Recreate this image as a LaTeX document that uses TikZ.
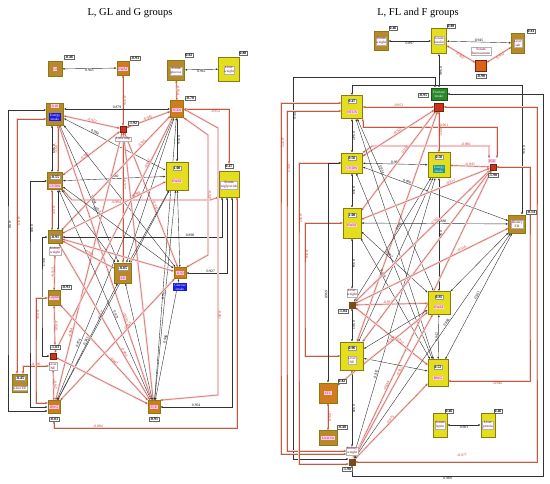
\documentclass[tikz,border=0pt]{standalone}
\usepackage{fontspec}
\setmainfont{Liberation Serif}
\usetikzlibrary{arrows.meta,backgrounds,calc}
\definecolor{goldc}{HTML}{B8892A}
\definecolor{orc}{HTML}{D27A1E}
\definecolor{yelc}{HTML}{E4DE1C}
\definecolor{redsq}{HTML}{C8341C}
\definecolor{brownsq}{HTML}{7A4A1A}
\definecolor{bluec}{HTML}{1A1AE6}
\definecolor{tealc}{HTML}{1A9A9A}
\definecolor{greenc}{HTML}{2A8A2A}
\definecolor{negc}{HTML}{B8603A}
\definecolor{negt}{HTML}{D03020}
\definecolor{haloc}{HTML}{F9D2DC}
\definecolor{bordc}{HTML}{8A7A10}
\definecolor{pinkb}{HTML}{FFD0E8}
\definecolor{magt}{HTML}{C0107A}
\tikzset{
 >={Latex[length=2.3pt,width=1.9pt]},
 posE/.style={<->, draw=black!80, line width=0.4pt},
 negE/.style={<->, draw=negc, line width=0.4pt, preaction={draw=haloc, line width=2pt, -}},
 plab/.style={font=\fontsize{3.7}{4.2}\selectfont, inner sep=0.4pt, text=black},
 nlab/.style={plab, text=negt},
 gbox/.style={draw=bordc, line width=0.6pt, inner sep=0pt, rectangle},
 vout/.style={draw=black!60, fill=white, font=\fontsize{3.9}{4.4}\selectfont\bfseries, inner sep=0.7pt, line width=0.3pt},
 vinb/.style={fill=white, draw=black!40, font=\fontsize{3.9}{4.4}\selectfont\bfseries, inner sep=0.6pt, line width=0.2pt},
 lpink/.style={fill=pinkb, font=\fontsize{3.6}{4.1}\selectfont, text=magt, inner sep=0.6pt, align=center},
 lwhite/.style={fill=white, draw=black!30, line width=0.2pt, font=\fontsize{3.5}{4}\selectfont, text=purple!60!black, inner sep=0.5pt, align=center},
 collab/.style={font=\fontsize{3.5}{4}\selectfont, text=white, inner sep=0.8pt, align=center},
 titlest/.style={font=\fontsize{10.5}{12}\selectfont}
}
\newcommand{\GNode}[7][]{\node[gbox,fill=#7,minimum width=#5pt,minimum height=#6pt,#1] (#2) at (#3,#4) {};}
\newcommand{\VOut}[4]{\node[vout] (#1) at (#2,#3) {#4};}
\newcommand{\VIn}[4]{\node[vinb] (#1) at (#2,#3) {#4};}
\newcommand{\LPink}[4]{\node[lpink] (#1) at (#2,#3) {#4};}
\newcommand{\LWhite}[4]{\node[lwhite] (#1) at (#2,#3) {#4};}
\begin{document}
\begin{tikzpicture}[x=1pt,y=-1pt]
\useasboundingbox (0,0) rectangle (550,484);
\node[titlest] (t1) at (130,13) {L, GL and G groups};
\node[titlest] (t2) at (418,13) {L, FL and F groups};

% ---------------- left panel nodes
\GNode{gi}{55}{69}{14}{15}{goldc} \LPink{gi-l}{55}{69}{GI} \VOut{gi-v}{69}{57}{-0.46}
\GNode{ewa}{123}{68}{12}{14}{orc} \LPink{ewa-l}{123}{69}{EWAT} \VOut{ewa-v}{135}{58}{-0.93}
\GNode{sgl}{176}{70}{17}{20}{goldc} \LWhite{sgl-l}{176}{71}{Serum\\glucose} \VOut{sgl-v}{189}{55}{0.82}
\GNode{lwa}{229}{69}{21}{24}{yelc} \LWhite{lwa-l}{229}{70}{Liver\\weight} \VOut{lwa-v}{243}{53}{0.88}
\GNode{eia}{55}{114}{17}{22}{goldc} \LPink{eia-v}{55}{106}{0.18}
\node[collab,fill=bluec] (eia-l) at (55,117) {Energy\\intake};
\GNode{scd}{177}{109}{13}{17}{orc} \LPink{scd-l}{177}{110}{SCD1} \VOut{scd-v}{190}{98}{-0.70}
\GNode[draw=redsq!60!black]{lad}{123}{129}{6}{6}{redsq} \VOut{lad-v}{133}{123}{-1.92} \LWhite{lad-l}{123}{139}{Liver adip}
\GNode{cva}{55}{181}{15}{17}{goldc} \VIn{cva-v}{55}{177}{-0.55} \LPink{cva-l}{55}{186}{CVDW}
\GNode{ewb}{177}{176}{22}{28}{yelc} \VIn{ewb-v}{177}{168}{1.00} \LPink{ewb-l}{177}{181}{EWAT}
\GNode{stg}{229}{184}{20}{26}{yelc} \LWhite{stg-l}{229}{185}{Serum\\triglyceride} \VOut{stg-v}{229}{166}{0.47}
\GNode{kwa}{55}{237}{14}{13}{goldc} \VIn{kwa-v}{55}{237}{-0.91} \LWhite{kwa-l}{55}{251}{Kidney\\weight}
\GNode{eda}{123}{273}{17}{20}{goldc} \VIn{eda-v}{123}{268}{-0.85} \LPink{eda-l}{123}{278}{ED}
\GNode{gib}{180}{273}{12}{11}{orc} \LPink{gib-v}{180}{273}{-0.92}
\node[collab,fill=bluec] (gib-l) at (180,287) {Glucose\\intake};
\GNode{lep}{54}{298}{12}{15}{goldc} \LPink{lep-l}{54}{298}{Leptin} \VOut{lep-v}{66}{287}{-0.93}
\GNode[draw=redsq!60!black]{lne}{53}{356}{6}{6}{redsq} \VOut{lne-v}{55}{347}{-1.83} \LWhite{lne-l}{53}{366}{Liver\\NE}
\GNode{lee}{20}{383}{15}{18}{goldc} \VIn{lee-v}{20}{378}{-0.45} \LWhite{lee-l}{20}{388}{Liver EE}
\GNode{bwa}{54}{407}{12}{13}{orc} \LPink{bwa-l}{54}{407}{BWG} \VOut{bwa-v}{54}{419}{-0.83}
\GNode{fca}{154}{407}{12}{13}{orc} \LPink{fca-l}{154}{407}{FCE} \VOut{fca-v}{154}{419}{-0.91}

% ---------------- right panel nodes
\GNode{swr}{381}{41}{14}{19}{goldc} \LWhite{swr-l}{381}{41}{Serum\\weight} \VOut{swr-v}{393}{28}{0.46}
\GNode{sir}{439}{41}{15}{25}{yelc} \LWhite{sir-l}{439}{40}{Serum\\insulin} \VOut{sir-v}{451}{26}{0.89}
\GNode{lsr}{518}{43}{13}{20}{goldc} \LWhite{lsr-l}{518}{43}{Liver\\salt} \VOut{lsr-v}{531}{31}{0.81}
\LWhite{sfr-l}{481}{51}{Serum\\fructosamine}
\GNode[draw=redsq!60!black]{sfr}{481}{66}{11}{11}{orc!80!red} \VOut{sfr-v}{481}{76}{-0.90}
\GNode[draw=greenc!60!black]{fir}{439}{94}{16}{12}{greenc}
\node[collab] (fir-l) at (439,94) {Fructose\\intake};
\GNode[draw=redsq!60!black]{firs}{439}{107}{9}{8}{redsq} \VOut{fir-v}{423}{95}{-0.95}
\GNode{ntr}{352}{107}{21}{23}{yelc} \VIn{ntr-v}{352}{101}{0.47} \LPink{ntr-l}{352}{112}{NTCN}
\GNode{cvr}{352}{163}{21}{20}{yelc} \VIn{cvr-v}{352}{158}{0.56} \LPink{cvr-l}{352}{168}{CVDW}
\GNode{eir}{439}{165}{22}{25}{yelc} \VIn{eir-v}{439}{157}{0.50}
\node[collab,fill=tealc] (eir-l) at (439,169) {Energy\\intake};
\LPink{fcr-l}{492}{161}{FCE}
\GNode[draw=redsq!60!black]{fcr}{493}{167}{6}{6}{redsq} \VOut{fcr-v}{493}{175}{-1.90}
\GNode{ewr}{352}{223}{18}{30}{yelc} \VIn{ewr-v}{352}{215}{1.00} \LPink{ewr-l}{352}{225}{EWAT}
\GNode{edr}{517}{224}{17}{18}{goldc} \LWhite{edr-l}{517}{224}{Dietary\\ED} \VOut{edr-v}{531}{212}{-0.14}
\LWhite{lwr-l}{352}{293}{Liver\\weight}
\GNode[draw=brownsq]{lwr}{352}{305}{6}{6}{brownsq} \VOut{lwr-v}{343}{311}{-1.04}
\GNode{ewr2}{439}{303}{22}{23}{yelc} \VIn{ewr2-v}{439}{297}{0.95} \LPink{ewr2-l}{439}{307}{EWAT}
\GNode{lner}{352}{356}{23}{28}{yelc} \VIn{lner-v}{352}{348}{0.96} \LWhite{lner-l}{352}{360}{Liver\\NE}
\GNode{bwr}{438}{373}{20}{27}{yelc} \VIn{bwr-v}{438}{367}{0.52} \LPink{bwr-l}{438}{378}{BWG}
\GNode{stc}{328}{393}{18}{20}{orc} \LPink{stc-l}{328}{393}{STC} \VOut{stc-v}{342}{381}{0.82}
\GNode{lfr}{328}{438}{18}{15}{goldc} \LPink{lfr-l}{328}{438}{Liver fat} \VOut{lfr-v}{342}{427}{-0.48}
\LWhite{kwr-l}{352}{451}{Kidney\\weight}
\GNode[draw=brownsq]{kwr}{352}{462}{6}{6}{brownsq} \VOut{kwr-v}{347}{469}{-1.98}
\GNode{slr}{440}{425}{14}{24}{yelc} \LWhite{slr-l}{440}{425}{Serum\\leptin} \VOut{slr-v}{449}{411}{0.46}
\GNode{lpr}{488}{425}{14}{24}{yelc} \LWhite{lpr-l}{488}{425}{Liver\\protein} \VOut{lpr-v}{498}{411}{0.46}

\begin{scope}[on background layer]
% ======== left panel edges
\draw[posE] (gi) -- node[plab,below]{0.945} (ewa);
\draw[posE] (sgl) -- node[plab,below]{0.961} (lwa);
\draw[negE] (ewa) -- node[nlab,sloped,above]{-0.976} (lad);
\draw[negE] (sgl) -- node[nlab,sloped,above]{-0.914} (scd);
\draw[posE] (eia.east |- scd) -- node[plab,above]{0.879} (scd);
\draw[negE] (lad) -- node[nlab,sloped,above]{-0.922} (eia);
\draw[negE] (lad) -- node[nlab,sloped,above]{-0.945} (scd);
\draw[negE] (scd.east) -| node[nlab,below,pos=0.35]{-0.952} (stg-v.north);
\draw[posE] ([xshift=-3pt]eia.south) -- node[plab,sloped,above]{0.969} ([xshift=-3pt]cva.north);
\draw[negE] ([xshift=3pt]eia.south) -- node[nlab,sloped,below]{-0.931} ([xshift=3pt]cva.north);
\draw[posE] (eia) -- node[plab,sloped,above,pos=0.3]{0.984} (ewb);
\draw[posE] (scd) -- node[plab,sloped,above]{0.916} (ewb);
\draw[posE] (cva) -- node[plab,above]{0.980} (ewb);
\draw[negE] (lad) -- node[nlab,sloped,above,pos=0.6]{-0.902} (cva);
\draw[negE] (cva.south east) -- (72,200) -- node[nlab,below,pos=0.32]{-0.904} (210,200) -- (stg.south west);
\draw[posE] (kwa.east) -| node[plab,above,pos=0.4]{0.890} ([xshift=-7pt]stg.south);
\draw[posE] (gib.east) -| node[plab,above,pos=0.3]{0.927} ([xshift=-2pt]stg.south);
\draw[posE] (fca.east) -| node[plab,above,pos=0.25]{0.954} ([xshift=3pt]stg.south);
\coordinate (c428) at (237,428);
\draw[negE] (bwa-v.south) |- node[nlab,above,pos=0.62]{-0.884} (c428) -- (c428 |- stg.south);
\draw[negE] ([xshift=-3pt]cva.south) -- node[nlab,sloped,above]{-0.937} ([xshift=-3pt]kwa.north);
\draw[posE] ([xshift=3pt]cva.south) -- ([xshift=3pt]kwa.north);
\draw[negE] (kwa-l) -- node[nlab,sloped,above]{-0.913} (lep);
\draw[negE] (lep) -- node[nlab,sloped,above]{-0.930} (lne-v);
\draw[negE] (lne-l) -- node[nlab,sloped,above]{-0.917} (bwa);
\draw[negE] ([xshift=3pt]lee.north) |- node[nlab,above,pos=0.75]{-0.896} (lne-l.west);
\coordinate (c42) at (42,300);
\draw[posE] (kwa.west) -| node[plab,sloped,above,pos=0.7]{0.913} (c42) |- (lne.west);
\coordinate (c8) at (8,300);
\draw[posE] ([yshift=4pt]eia.west) -| node[plab,sloped,above,pos=0.8]{-0.98} (c8) |- ([yshift=-4pt]bwa.west);
\draw[negE] ([yshift=-5pt]eia.west) -| node[nlab,sloped,above,pos=0.7]{-0.919} ([xshift=-3pt]lee.north);
\coordinate (c30) at (30,300);
\draw[posE] (cva.west) -| node[plab,sloped,above,pos=0.7]{0.983} (c30) |- (bwa.west);
\draw[negE] (lep.west) -| node[nlab,sloped,above,pos=0.6]{-0.936} (36,380) |- ([yshift=4pt]bwa.west);
% diagonals
\draw[posE] (eia) -- node[plab,sloped,above,pos=0.55]{0.934} (eda);
\draw[posE] (eia) -- (gib);
\draw[negE] (eia) -- node[nlab,sloped,above,pos=0.7]{-0.930} (fca);
\draw[negE] (lad) -- node[nlab,sloped,above,pos=0.4]{-0.977} (eda);
\draw[negE] (lad) -- node[nlab,sloped,above,pos=0.55]{-0.930} (gib);
\draw[negE] (lad) -- node[nlab,sloped,above,pos=0.75]{-0.904} (bwa);
\draw[negE] (lad) -- (fca);
\draw[posE] (scd) -- (eda);
\draw[posE] (scd) -- node[plab,sloped,above,pos=0.8]{0.874} (bwa);
\draw[posE] (scd) -- (fca);
\draw[negE] (scd.south east) -- (208,135) -- node[nlab,sloped,above]{-0.927} (208,255) -- (gib.north east);
\draw[negE] (scd.east) -- (218,128) -- node[nlab,sloped,above,pos=0.7]{-0.951} (218,395) -- (fca.north east);
\draw[negE] (kwa) -- node[nlab,sloped,above,pos=0.75]{-0.915} (scd);
\draw[negE] (lne) -- node[nlab,sloped,above,pos=0.8]{-0.962} (scd);
\draw[posE] (cva) -- (eda);
\draw[posE] (cva) -- node[plab,sloped,above,pos=0.3]{0.952} (gib);
\draw[posE] (cva) -- node[plab,sloped,above,pos=0.6]{0.972} (fca);
\draw[posE] (ewb) -- (eda);
\draw[posE] (ewb) -- node[plab,sloped,above,pos=0.6]{0.917} (bwa);
\draw[posE] (ewb) -- node[plab,sloped,above,pos=0.5]{0.906} (fca);
\draw[posE] (ewb) -- (gib);
\draw[negE] (kwa) -- node[nlab,sloped,above]{-0.961} (eda);
\draw[negE] (kwa) -- (gib);
\draw[negE] (kwa) -- node[nlab,sloped,above,pos=0.7]{-0.964} (fca);
\draw[posE] (eda) -- node[plab,sloped,above]{0.942} (bwa);
\draw[posE] (eda) -- (fca);
\draw[negE] (gib) -- node[nlab,sloped,above,pos=0.4]{-0.955} (bwa);
\draw[posE] (gib) -- node[plab,sloped,above,pos=0.5]{0.986} (fca);
\draw[negE] (lne) -- (fca);
\draw[negE] (lep) -- node[nlab,sloped,above,pos=0.6]{-0.947} (fca);
\draw[negE] (ewb) -- node[nlab,sloped,above,pos=0.28]{-0.948} (kwa);

% ======== right panel edges
\draw[posE] (swr) -- node[plab,below]{0.897} (sir);
\draw[posE] (sir) -- node[plab,above]{0.945} (lsr);
\draw[negE] (sir) -- node[nlab,sloped,below]{-0.962} (sfr);
\draw[negE] (lsr) -- node[nlab,sloped,below]{-0.932} (sfr);
\draw[posE] (sir) -- node[plab,sloped,above]{0.946} (fir);
\draw[negE] (firs) -- node[nlab,above]{-0.951} (ntr);
\coordinate (r85) at (522,85);
\draw[posE] (ntr.north) |- (r85) -- node[plab,sloped,above]{0.936} (r85 |- edr.north);
\coordinate (r77) at (293,77);
\draw[posE] ([xshift=-4pt]fir.north) |- (r77) -- node[plab,sloped,above,pos=0.1]{0.916} (293,459) -- ([yshift=3pt]kwr.west);
\draw[posE] (cvr) -- node[plab,above]{0.985} (eir);
\draw[negE] (eir) -- node[nlab,above]{-0.943} (fcr);
\draw[posE] (ntr) -- node[plab,sloped,above]{0.947} (cvr);
\draw[posE] (cvr) -- node[plab,sloped,above]{0.959} (ewr);
\draw[posE] (ewr) -- node[plab,sloped,above]{0.914} (lwr-l);
\draw[posE] (lwr) -- node[plab,sloped,above]{0.963} (lner);
\draw[posE] (lner) -- node[plab,sloped,above]{0.978} (kwr-l);
\draw[posE] (ewr) -- node[plab,above,pos=0.55]{0.880} (edr);
\draw[posE] (cvr) -- node[plab,sloped,above,pos=0.3]{0.906} (edr);
\draw[negE] (lwr) -- node[nlab,above,pos=0.45]{-0.952} (ewr2);
\draw[posE] (ewr2) -- node[plab,sloped,above]{0.942} (bwr);
\draw[negE] (stc) -- node[nlab,sloped,above]{-0.918} (lfr);
\draw[posE] (slr) -- node[plab,below]{0.903} (lpr);
\draw[negE] (kwr.east) -| (537,300) |- (firs.east);
\node[nlab] (lbl977) at (462,455) {-0.977};
\draw[posE] (kwr.south) |- node[plab,below,pos=0.75]{0.989} (543,476) |- (fir.east);
\draw[negE] ([yshift=-8pt]bwr.east) -| node[nlab,below,pos=0.3]{-0.946} (530,300) |- (fcr.east);
\draw[negE] (ntr.south east) |- node[nlab,above,pos=0.8]{-0.961} (497,127) -- (497,158);
\draw[negE] (cvr.north east) -- (372,146) -- node[nlab,above,pos=0.8]{-0.980} (489,146) -- (489,158);
\draw[negE] ([yshift=4pt]ntr.west) -| node[nlab,sloped,above,pos=0.6]{-0.972} (281,300) |- ([yshift=-3pt]kwr-l.west);
\draw[negE] ([yshift=-4pt]ntr.west) -| node[nlab,sloped,above,pos=0.65]{-0.913} (287,300) |- (kwr-l.west);
\draw[negE] (cvr.west) -| node[nlab,sloped,above,pos=0.7]{-0.957} (299,300) |- ([yshift=-2pt]kwr.west);
\draw[negE] (ewr.west) -| node[nlab,sloped,above,pos=0.7]{-0.918} (305,300) |- (lner.west);
\draw[posE] (stc.north) |- node[plab,sloped,above,pos=0.2]{0.969} (cvr.west);
% diagonals
\draw[negE] (firs) -- node[nlab,sloped,above,pos=0.5]{-0.922} (cvr);
\draw[negE] (firs) -- node[nlab,sloped,above,pos=0.4]{-0.912} (ewr);
\draw[negE] (firs) -- (lner);
\draw[negE] (firs) -- node[nlab,sloped,above]{-0.931} (eir);
\draw[posE] (ntr) -- node[plab,sloped,above,pos=0.3]{0.934} (ewr2);
\draw[posE] (ntr) -- (bwr);
\draw[posE] (cvr) -- (bwr);
\draw[posE] (eir) -- node[plab,sloped,above,pos=0.4]{0.960} (lwr);
\draw[posE] (eir) -- (lner);
\draw[posE] (eir) -- node[plab,sloped,above,pos=0.7]{0.976} (kwr);
\draw[posE] (eir) -- node[plab,sloped,above]{0.966} (ewr2);
\draw[posE] (ewr) -- node[plab,sloped,above,pos=0.4]{0.937} (ewr2);
\draw[posE] (ewr) -- node[plab,sloped,above,pos=0.3]{0.938} (bwr);
\draw[negE] (fcr) -- node[nlab,sloped,above,pos=0.3]{-0.912} (ewr);
\draw[negE] (fcr) -- node[nlab,sloped,above,pos=0.4]{-0.952} (lwr);
\draw[negE] (fcr) -- (lner);
\draw[negE] (fcr) -- node[nlab,sloped,above,pos=0.75]{-0.944} (kwr);
\draw[posE] (edr) -- (ewr2);
\draw[posE] (edr) -- node[plab,sloped,above,pos=0.5]{0.961} (bwr);
\draw[negE] (lwr) -- node[nlab,sloped,above,pos=0.6]{-0.912} (bwr);
\draw[negE] (lwr) -- node[nlab,sloped,above,pos=0.7]{-0.954} (edr);
\draw[posE] (lner) -- (ewr2);
\draw[posE] (lner) -- (bwr);
\draw[negE] (kwr) -- node[nlab,sloped,above,pos=0.5]{-0.975} (bwr);
\draw[negE] (kwr) -- node[nlab,sloped,above,pos=0.6]{-0.952} (ewr2);
\draw[posE] (kwr) -- node[plab,sloped,above,pos=0.6]{0.986} (edr);
\draw[negE] (stc) -- node[nlab,sloped,above,pos=0.6]{-0.929} (ewr2);
\end{scope}
\end{tikzpicture}
\end{document}
